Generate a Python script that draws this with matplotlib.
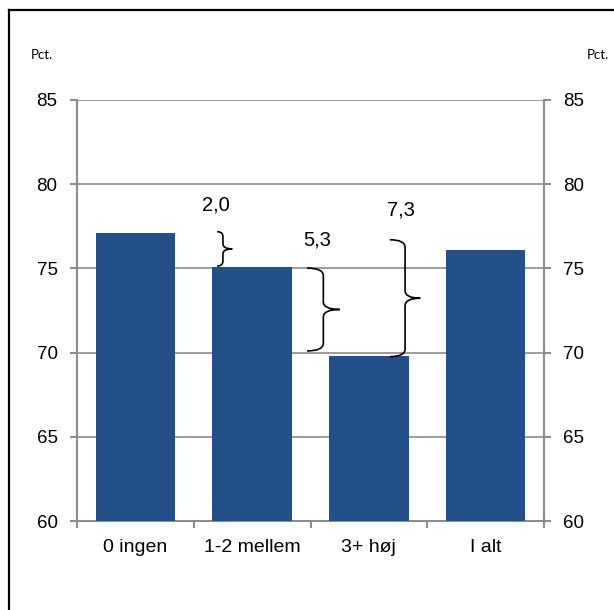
import matplotlib.pyplot as plt
from matplotlib.path import Path
from matplotlib.patches import PathPatch
from matplotlib.lines import Line2D

plt.rcParams['font.family'] = ['Liberation Sans', 'DejaVu Sans']

# Andel i pct. fordelt på antal
categories = ['0 ingen', '1-2 mellem', '3+ høj', 'I alt']
values = [77.1, 75.1, 69.8, 76.1]
yticks = [60, 65, 70, 75, 80, 85]

# differencer mellem grupperne (label, fra, til)
diff_labels = ['2,0', '5,3', '7,3']
diff_from = [values[0], values[1], values[0]]
diff_to = [values[1], values[2], values[2]]

bar_color = '#245089'
axis_gray = '#8c8c8c'

fig = plt.figure(figsize=(6.14, 6.10), dpi=100)
ax = fig.add_axes([77 / 614, 1 - 521 / 610, 467 / 614, 421 / 610])

x = range(len(categories))
ax.bar(x, values, width=0.68, color=bar_color, zorder=3)

ax.set_xlim(-0.5, len(categories) - 0.5)
ax.set_ylim(60, 85)
ax.set_yticks(yticks)
ax.set_yticklabels([str(t) for t in yticks], fontsize=13.5)
ax.set_xticks(list(x))
ax.set_xticklabels(categories, fontsize=14)
ax.set_xticks([i - 0.5 for i in range(len(categories) + 1)], minor=True)

ax.grid(axis='y', color=axis_gray, linewidth=1.2, zorder=0)
for side in ['left', 'right', 'bottom']:
    ax.spines[side].set_color(axis_gray)
    ax.spines[side].set_linewidth(1.5)
ax.spines['top'].set_visible(False)

ax.tick_params(axis='x', which='major', length=0, pad=13)
ax.tick_params(axis='x', which='minor', length=5, width=1.5, color=axis_gray)
ax.tick_params(axis='y', length=5, width=1.5, color=axis_gray, pad=9,
               right=True, labelright=True)

# spidse parenteser for differencerne
def brace(ax, x0, xm, x1, ytop, ybot, r=0.45):
    ymid = (ytop + ybot) / 2
    verts = [
        (x0, ytop), (xm, ytop), (xm, ytop - r),
        (xm, ymid + r), (xm, ymid), (x1, ymid),
        (xm, ymid), (xm, ymid - r),
        (xm, ybot + r), (xm, ybot), (x0, ybot),
    ]
    codes = [
        Path.MOVETO, Path.CURVE3, Path.CURVE3,
        Path.LINETO, Path.CURVE3, Path.CURVE3,
        Path.CURVE3, Path.CURVE3,
        Path.LINETO, Path.CURVE3, Path.CURVE3,
    ]
    ax.add_patch(PathPatch(Path(verts, codes), fill=False, edgecolor='black',
                           linewidth=1.2, zorder=4, clip_on=False))

brace(ax, 0.70, 0.75, 0.83, diff_from[0] + 0.08, diff_to[0] + 0.04, r=0.3)
brace(ax, 1.47, 1.61, 1.75, diff_from[1] - 0.08, diff_to[1] + 0.3)
brace(ax, 2.18, 2.31, 2.44, diff_from[2] - 0.4, diff_to[2] - 0.04)

label_pos = [(0.69, 78.77), (1.556, 76.69), (2.275, 78.47)]
for lab, (lx, ly) in zip(diff_labels, label_pos):
    ax.text(lx, ly, lab, fontsize=14.5, ha='center', va='center', zorder=5)

# enhed over akserne
fig.text(31 / 614, 1 - 55 / 610, 'Pct.', fontsize=9.5, family=['Lato', 'DejaVu Sans'],
         va='center', ha='left')
fig.text(587 / 614, 1 - 55 / 610, 'Pct.', fontsize=9.5, family=['Lato', 'DejaVu Sans'],
         va='center', ha='left')

# ramme om figuren
fig.add_artist(Line2D([8.5 / 614, 8.5 / 614], [0, 1 - 10 / 610],
                      transform=fig.transFigure, color='black', linewidth=1.6))
fig.add_artist(Line2D([8.5 / 614, 1], [1 - 10 / 610, 1 - 10 / 610],
                      transform=fig.transFigure, color='black', linewidth=1.6))

fig.savefig('out.png', dpi=100)
